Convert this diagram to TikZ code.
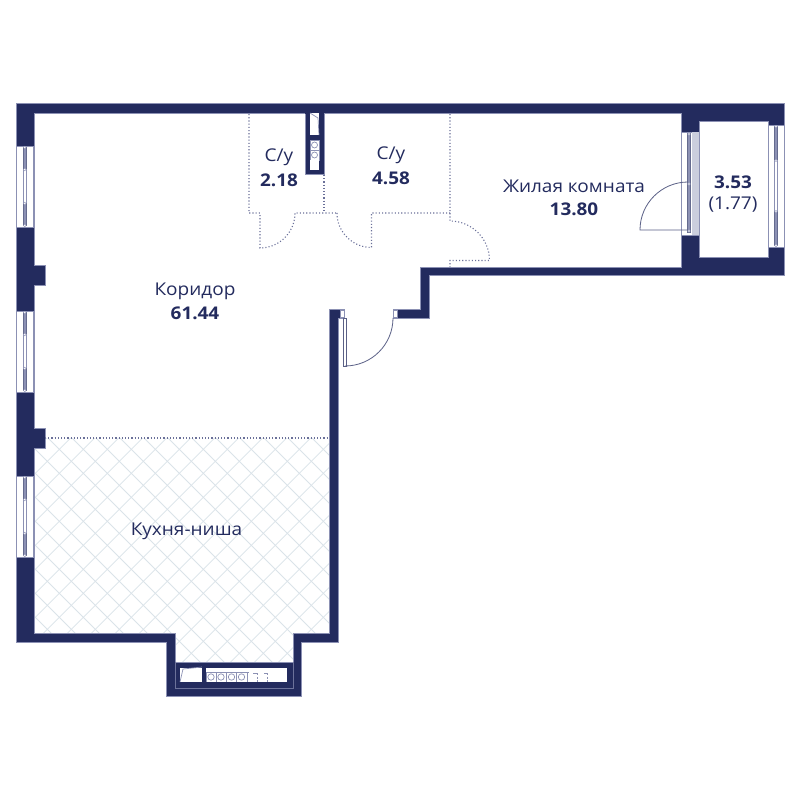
\documentclass[tikz,border=0pt]{standalone}
\usepackage{fontspec}
\setmainfont[FakeStretch=1.08]{Open Sans}
\definecolor{navy}{HTML}{232B5E}
\definecolor{edge}{HTML}{8C91B4}
\definecolor{hatch}{HTML}{DAE3E9}
\definecolor{dots}{HTML}{6A7099}
\tikzset{
  wallfill/.style={fill=navy,draw=edge,line width=0.5pt},
  dotwall/.style={draw=dots,line width=1.1pt,dash pattern=on 1.1pt off 2.1pt},
  thinline/.style={draw=edge,line width=0.7pt},
  doorline/.style={draw=navy!75!white,line width=0.8pt},
  winframe/.style={fill=white,draw=edge,line width=0.7pt},
  sash/.style={fill=edge,draw=navy!70!white,line width=0.6pt},
  glass/.style={fill=white,draw=edge,line width=0.7pt},
  hinge/.style={circle,fill=white,draw=edge,line width=0.4pt,inner sep=0pt,minimum size=2.6pt},
  label/.style={text=navy,font=\fontsize{17.6}{20}\selectfont,inner sep=0pt},
  value/.style={text=navy,font=\fontsize{17.5}{20}\selectfont\bfseries,inner sep=0pt}
}
\newcommand{\vwin}[4]{% x-left, x-right, y-top, y-bottom
  \pgfmathsetmacro{\cx}{(#1+#2)/2}
  \pgfmathsetmacro{\ya}{#3+1.5}
  \pgfmathsetmacro{\yb}{#3+(#4-#3)*0.29}
  \pgfmathsetmacro{\yc}{#3+(#4-#3)*0.71}
  \pgfmathsetmacro{\yd}{#4-1.5}
  \fill[white] (#1,#3) rectangle (#2,#4);
  \draw[thinline] (#1,#3) -- (#1,#4) (#2,#3) -- (#2,#4) (#1,#3) -- (#2,#3) (#1,#4) -- (#2,#4);
  \draw[sash] (\cx-1.3,\ya) rectangle (\cx+1.3,\yb);
  \draw[glass] (\cx-1.3,\yb) rectangle (\cx+1.3,\yc);
  \draw[sash] (\cx-1.3,\yc) rectangle (\cx+1.3,\yd);
  \node[hinge] at (\cx,\ya) {};
  \node[hinge] at (\cx,\yb) {};
  \node[hinge] at (\cx,\yc) {};
  \node[hinge] at (\cx,\yd) {};
}
\begin{document}
\begin{tikzpicture}[x=1pt,y=-1pt]
\useasboundingbox (0,0) rectangle (800,800);
\fill[white] (0,0) rectangle (800,800);
% tiled floor
\begin{scope}
  \clip (34,438) -- (329,438) -- (329,633) -- (293,633) -- (293,662) -- (175,662) -- (175,633) -- (34,633) -- cycle;
  \foreach \k in {-8,...,30} {
    \draw[hatch,line width=0.8pt] ({-390+24*\k},0) -- ({-390+24*\k+800},800);
    \draw[hatch,line width=0.8pt] ({508.6+24*(\k-8)},0) -- ({508.6+24*(\k-8)-800},800);
  }
\end{scope}
% main walls
\draw[wallfill] (16,103) -- (784,103) -- (784,275) -- (429,275) -- (429,318) -- (393,318) -- (393,309) -- (420,309) -- (420,267) -- (681,267) -- (681,113) -- (34,113) -- (34,265) -- (45,265) -- (45,285) -- (34,285) -- (34,428) -- (45,428) -- (45,448) -- (34,448) -- (34,633) -- (175,633) -- (175,662) -- (293,662) -- (293,633) -- (329,633) -- (329,309) -- (344,309) -- (344,318) -- (338,318) -- (338,642) -- (301,642) -- (301,696) -- (166,696) -- (166,642) -- (16,642) -- cycle;
% balcony
\fill[white,draw=edge,line width=0.5pt] (699,121) rectangle (768,257);
% windows
\vwin{16}{33.5}{146}{227}
\vwin{16}{33.5}{311}{392}
\vwin{16}{33.5}{476}{557}
\vwin{768}{784}{125}{247}
% balcony door and window
\fill[white] (681,132) rectangle (699,235);
\draw[thinline] (681,132) -- (681,235) (699,132) -- (699,235) (681,132) -- (699,132) (681,235) -- (699,235);
\fill[edge!45!white] (692,132) rectangle (699,235);
\draw[sash] (687.5,133) rectangle (690.5,184);
\draw[sash] (687.5,184) rectangle (690.5,232);
\node[hinge] at (689,134) {};
\node[hinge] at (689,184) {};
\node[hinge] at (689,231) {};
% door of living room
\draw[doorline] (688,230) -- (640,230) arc[start angle=180,end angle=270,radius=48];
% shaft
\draw[wallfill] (305,113) rectangle (324,174);
\fill[navy] (305,112) rectangle (324,114);
\fill[white] (310,113) rectangle (319,135);
\draw[thinline] (310,113) -- (318,118) -- (319,135);
\draw[thinline,fill=white] (310,140) rectangle (319,150);
\draw[thinline,fill=white] (310,150) rectangle (319,160);
\draw[thinline] (314.5,145) circle (3);
\draw[thinline] (314.5,155) circle (3);
\fill[white] (310,160) rectangle (319,170);
% partitions
\draw[dotwall] (249,114) -- (249,213) -- (260,213) -- (260,248) arc[start angle=90,end angle=0,radius=35] -- (337,213);
\draw[dotwall] (324,175) -- (324,213);
\draw[dotwall] (337,213) arc[start angle=180,end angle=90,radius=34.5] -- (371.5,213) -- (450,213);
\draw[dotwall] (450,114) -- (450,221) arc[start angle=270,end angle=360,radius=39.5] -- (450,260.5) -- (450,267);
\draw[dotwall] (45,438) -- (329,438);
% entrance door
\draw[thinline,fill=white] (340,310) rectangle (344,317);
\draw[thinline,fill=white] (393,310) rectangle (397,317);
\draw[fill=white,draw=navy!75!white,line width=0.7pt] (343,318) rectangle (346,366);
\draw[doorline] (345,366) arc[start angle=90,end angle=0,radius=48];
% kitchen cabinet
\draw[draw=edge!70!navy,line width=0.5pt] (175,662) -- (175,688) -- (293,688) -- (293,662);
\fill[white] (180,668) rectangle (202,682);
\draw[thinline] (180,682) -- (183,669) -- (202,667);
\fill[white] (206,668) rectangle (287,682);
\draw[thinline] (206,672) -- (249,672) (206,672) -- (206,682);
\foreach \cxx/\bx in {211/206,221/216,231.5/226,241.5/236} {
  \draw[thinline] (\bx,672) -- (\bx,682);
  \draw[thinline] (\cxx,677) circle (3.2);
}
\draw[thinline] (247,672) -- (247,682);
\draw[thinline] (253,673) -- (258,673) (264,673) -- (268,673);
\draw[thinline,dash pattern=on 2pt off 1.5pt] (257,673) -- (257,682) (267.5,673) -- (267.5,682);
% labels
\node[label] (tCor) at (195,291) {Коридор};
\node[value] (vCor) at (195,313) {61.44};
\node[label] (tKit) at (186.5,531) {Кухня-ниша};
\node[label] (tB1) at (279,157) {С/у};
\node[value] (vB1) at (279,180) {2.18};
\node[label] (tB2) at (391,155) {С/у};
\node[value] (vB2) at (391,178) {4.58};
\node[label] (tLiv) at (574,186) {Жилая комната};
\node[value] (vLiv) at (574,209) {13.80};
\node[value] (vBal) at (733,182) {3.53};
\node[label] (tBal) at (733,205) {(1.77)};
\end{tikzpicture}
\end{document}
